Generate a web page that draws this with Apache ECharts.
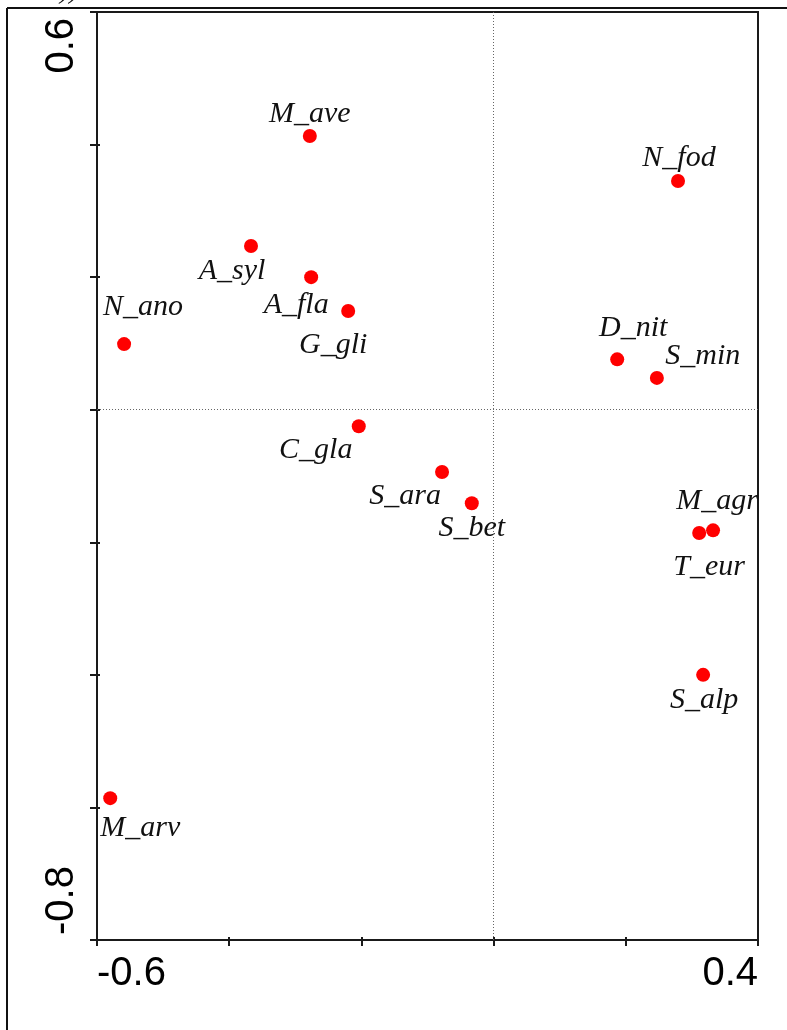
<!DOCTYPE html>
<html>
<head>
<meta charset="utf-8">
<script src="https://cdn.jsdelivr.net/npm/echarts@6/dist/echarts.min.js"></script>
<style>
  html, body { margin: 0; padding: 0; background: #fff; }
  #chart { width: 787px; height: 1030px; }
</style>
</head>
<body>
<div id="chart"></div>
<script>
// Species scores on the first two ordination axes
const species = ['M_ave', 'N_fod', 'A_syl', 'A_fla', 'G_gli', 'N_ano', 'D_nit', 'S_min',
                 'C_gla', 'S_ara', 'S_bet', 'M_agr', 'T_eur', 'S_alp', 'M_arv'];
const axis1 = [-0.278, 0.279, -0.367, -0.276, -0.220, -0.559, 0.187, 0.247,
               -0.204, -0.078, -0.033, 0.332, 0.311, 0.317, -0.580];
const axis2 = [0.413, 0.345, 0.247, 0.200, 0.149, 0.099, 0.076, 0.048,
               -0.025, -0.094, -0.141, -0.182, -0.186, -0.400, -0.586];

// Axis ranges and the tick values that carry a label
const xRange = [-0.6, 0.4];
const yRange = [-0.8, 0.6];
const tickStep = 0.2;
const xTickLabels = ['-0.6', '0.4'];
const yTickLabels = ['-0.8', '0.6'];

// Where each species name sits relative to its point (pixels)
const labelOffset = {
  M_ave: [0, -22], N_fod: [1, -23], A_syl: [-19, 25], A_fla: [-15, 28],
  G_gli: [-15, 34], N_ano: [19, -37], D_nit: [16, -31], S_min: [46, -22],
  C_gla: [-43, 24], S_ara: [-37, 24], S_bet: [0, 25], M_agr: [4, -29],
  T_eur: [10, 34], S_alp: [1, 25], M_arv: [30, 30]
};

const points = species.map((name, i) => ({ name: name, value: [axis1[i], axis2[i]] }));

const fmt = list => v => {
  const s = (Math.round(v * 10) / 10).toFixed(1);
  return list.indexOf(s) >= 0 ? s : '';
};

const lineColor = '#1a1a1a';

const option = {
  animation: false,
  backgroundColor: '#fff',
  grid: {
    left: 97, top: 12, width: 661, height: 928,
    show: true, borderColor: lineColor, borderWidth: 2,
    backgroundColor: 'transparent'
  },
  xAxis: [{
    type: 'value', min: xRange[0], max: xRange[1], interval: tickStep,
    position: 'bottom',
    axisLine: { show: true, onZero: false, lineStyle: { color: lineColor, width: 2 } },
    axisTick: { show: true, inside: false, length: 6, lineStyle: { color: lineColor, width: 2 } },
    splitLine: { show: false },
    axisLabel: {
      show: true, formatter: fmt(xTickLabels), margin: 14,
      fontFamily: 'Liberation Sans, Arial, sans-serif', fontSize: 40, color: '#000',
      showMinLabel: true, showMaxLabel: true,
      alignMinLabel: 'left', alignMaxLabel: 'right'
    }
  }, {
    type: 'value', min: xRange[0], max: xRange[1], interval: tickStep,
    position: 'bottom',
    axisLine: { show: false, onZero: false },
    axisTick: { show: true, inside: true, length: 3, lineStyle: { color: lineColor, width: 2 } },
    splitLine: { show: false },
    axisLabel: { show: false }
  }],
  yAxis: [{
    type: 'value', min: yRange[0], max: yRange[1], interval: tickStep,
    position: 'left',
    axisLine: { show: true, onZero: false, lineStyle: { color: lineColor, width: 2 } },
    axisTick: { show: true, inside: false, length: 7, lineStyle: { color: lineColor, width: 2 } },
    splitLine: { show: false },
    axisLabel: {
      show: true, formatter: fmt(yTickLabels), rotate: 90, margin: 15,
      fontFamily: 'Liberation Sans, Arial, sans-serif', fontSize: 40, color: '#000',
      showMinLabel: true, showMaxLabel: true,
      verticalAlign: 'bottom',
      padding: [0, 6, 0, 5],
      alignMinLabel: 'left', alignMaxLabel: 'right'
    }
  }, {
    type: 'value', min: yRange[0], max: yRange[1], interval: tickStep,
    position: 'left',
    axisLine: { show: false, onZero: false },
    axisTick: { show: true, inside: true, length: 3, lineStyle: { color: lineColor, width: 2 } },
    splitLine: { show: false },
    axisLabel: { show: false }
  }],
  graphic: [
    { type: 'line', shape: { x1: 7, y1: 8, x2: 787, y2: 8 }, style: { stroke: '#111', lineWidth: 2 }, z: 10 },
    { type: 'line', shape: { x1: 7, y1: 8, x2: 7, y2: 1030 }, style: { stroke: '#111', lineWidth: 2 }, z: 10 },
    { type: 'text', left: 60, top: -23,
      style: { text: '))', font: 'italic 28px "Liberation Serif", serif', fill: '#111' } }
  ],
  series: [{
    type: 'scatter',
    xAxisIndex: 0, yAxisIndex: 0,
    symbol: 'circle', symbolSize: 14,
    itemStyle: { color: '#ff0000', opacity: 1 },
    label: {
      show: true, position: 'inside', formatter: '{b}',
      fontFamily: '"Liberation Serif", "Times New Roman", serif',
      fontStyle: 'italic', fontSize: 30, color: '#111'
    },
    labelLayout: function (params) {
      const off = labelOffset[species[params.dataIndex]] || [0, 0];
      return { dx: off[0], dy: off[1], hideOverlap: false };
    },
    emphasis: { disabled: true },
    markLine: {
      silent: true, symbol: 'none', animation: false,
      label: { show: false },
      lineStyle: { color: '#666', type: [1, 2], width: 1 },
      data: [{ xAxis: 0 }, { yAxis: 0 }]
    },
    data: points
  }]
};

const chart = echarts.init(document.getElementById('chart'), null, { renderer: 'canvas' });
chart.setOption(option);
</script>
</body>
</html>
